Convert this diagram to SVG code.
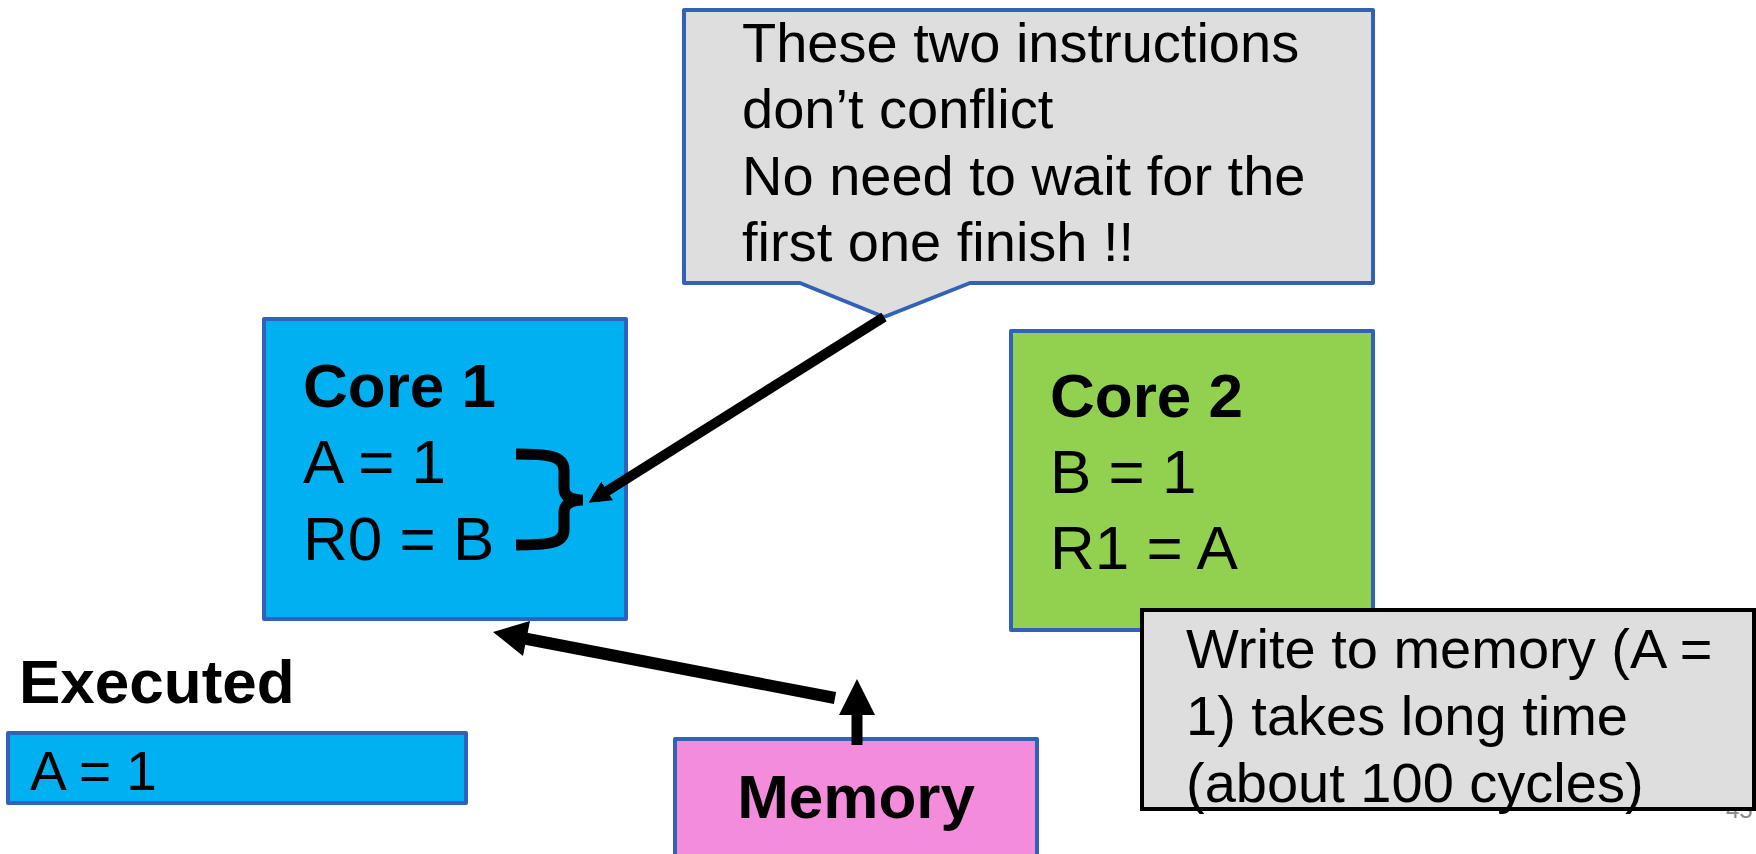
<svg xmlns="http://www.w3.org/2000/svg" width="1756" height="854" viewBox="0 0 1756 854">
  <style>
    .box { stroke: #3162B8; stroke-width: 4; stroke-linejoin: round; }
    .core { fill: #00B0F0; }
    .green { fill: #92D050; }
    .pink { fill: #F48CDC; }
    .note { fill: #DEDEDE; }
    .t { font-family: "Liberation Sans", Arial, sans-serif; fill: #000; }
    .b { font-weight: bold; }
    .s62 { font-size: 62px; }
    .s56 { font-size: 56px; }
    .s55 { font-size: 55px; }
    .wire { stroke: #000; fill: none; }
  </style>
  <defs>
    <marker id="tipSmall" viewBox="0 0 10 10" refX="6" refY="5" markerWidth="2.2" markerHeight="2.2" orient="auto" markerUnits="strokeWidth">
      <path d="M0,0 L10,5 L0,10 Z" fill="#000"/>
    </marker>
  </defs>

  <rect width="1756" height="854" fill="#FFFFFF"/>

  <!-- page number, mostly hidden behind the latency note -->
  <text x="1726" y="818" font-family="Liberation Sans, Arial, sans-serif" font-size="24" fill="#898989">45</text>

  <!-- callout bubble -->
  <g id="callout">
    <path class="box note" d="M684,10 H1373 V283 H970 L884,317 L800,283 H684 Z"/>
    <text class="t s56" x="742" y="62">These two instructions</text>
    <text class="t s56" x="742" y="128">don’t conflict</text>
    <text class="t s56" x="742" y="195">No need to wait for the</text>
    <text class="t s56" x="742" y="261">first one finish !!</text>
  </g>

  <!-- core 1 -->
  <g id="core1">
    <rect class="box core" x="264" y="319" width="362" height="300"/>
    <text class="t b s62" x="303" y="407">Core 1</text>
    <text class="t s62" x="303" y="483">A = 1</text>
    <text class="t s62" x="303" y="560">R0 = B</text>
  </g>

  <!-- core 2 -->
  <g id="core2">
    <rect class="box green" x="1011" y="331" width="362" height="299"/>
    <text class="t b s62" x="1050" y="417">Core 2</text>
    <text class="t s62" x="1050" y="493">B = 1</text>
    <text class="t s62" x="1050" y="569">R1 = A</text>
  </g>

  <!-- executed list -->
  <g id="executed">
    <text class="t b s62" x="19" y="703">Executed</text>
    <rect class="box core" x="8" y="733" width="458" height="70"/>
    <text class="t s55" x="30" y="790">A = 1</text>
  </g>

  <!-- memory -->
  <g id="memory">
    <rect class="box pink" x="675" y="739" width="362" height="130"/>
    <text class="t b s62" x="856" y="818" text-anchor="middle">Memory</text>
  </g>

  <!-- connectors -->
  <g id="connectors">
    <!-- brace grouping the two core-1 instructions -->
    <path class="wire" stroke-width="11" d="M516,454 C546,454 564,455 564,470 L564,488 C564,497 572,500 583,500 C572,500 564,504 564,512 L564,530 C564,544 546,545 516,545"/>
    <!-- callout pointer line to the brace -->
    <path class="wire" stroke-width="10" d="M884,317 L596,498" marker-end="url(#tipSmall)"/>
    <!-- memory to core 1 -->
    <path class="wire" stroke-width="12" d="M835,698 L522,638"/>
    <path d="M493,632 L530,621 L523,656 Z" fill="#000"/>
    <!-- up arrow from memory -->
    <path class="wire" stroke-width="11" d="M857,745 L857,712"/>
    <path d="M857,679 L875,715 L839,715 Z" fill="#000"/>
  </g>

  <!-- latency note -->
  <g id="latency-note">
    <rect x="1142" y="610" width="612" height="199" fill="#DEDEDE" stroke="#000" stroke-width="4"/>
    <text class="t s56" x="1186" y="668">Write to memory (A =</text>
    <text class="t s56" x="1186" y="735">1) takes long time</text>
    <text class="t s56" x="1186" y="802">(about 100 cycles)</text>
  </g>
</svg>
